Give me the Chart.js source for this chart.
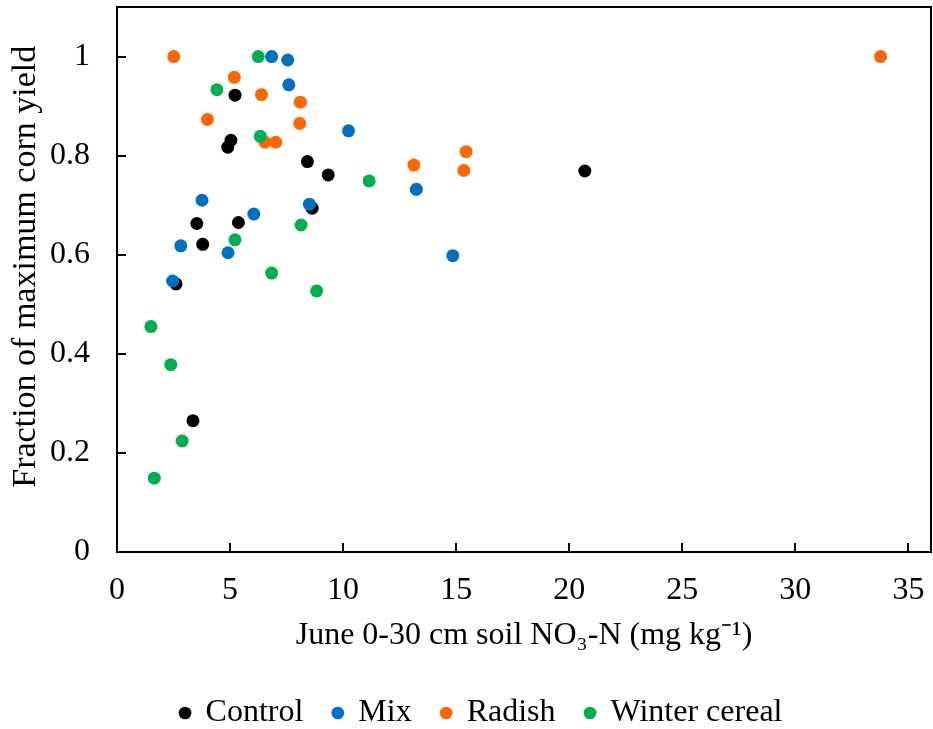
<!DOCTYPE html>
<html>
<head>
<meta charset="utf-8">
<script src="https://cdn.jsdelivr.net/npm/chart.js@4"></script>
<style>
  html, body { margin: 0; padding: 0; background: #fff; }
  #wrap { width: 933px; height: 729px; }
</style>
</head>
<body>
<div id="wrap"><canvas id="myChart" width="933" height="729"></canvas></div>
<script>
// June soil nitrate (mg/kg) vs fraction of max corn yield, per cover crop
const controlX = [5.22, 5.04, 4.90, 8.42, 9.34, 8.63, 3.53, 5.37, 3.79, 2.61, 3.36, 20.69];
const controlY = [0.922, 0.831, 0.817, 0.788, 0.761, 0.694, 0.663, 0.665, 0.621, 0.541, 0.265, 0.769];

const mixX = [6.84, 7.55, 7.60, 10.24, 3.76, 8.51, 6.05, 2.82, 4.91, 2.46, 13.24, 14.85];
const mixY = [1.0, 0.993, 0.943, 0.850, 0.710, 0.702, 0.682, 0.618, 0.604, 0.547, 0.732, 0.598];

const radishX = [2.51, 5.19, 6.39, 8.11, 4.00, 8.08, 6.55, 7.02, 13.13, 15.44, 15.34, 33.77];
const radishY = [1.0, 0.958, 0.923, 0.908, 0.873, 0.865, 0.827, 0.827, 0.781, 0.808, 0.770, 1.0];

const cerealX = [6.25, 4.42, 6.34, 11.15, 8.14, 5.22, 6.84, 8.83, 1.50, 2.38, 2.88, 1.65];
const cerealY = [1.0, 0.933, 0.839, 0.749, 0.660, 0.630, 0.563, 0.527, 0.455, 0.378, 0.224, 0.149];

const seriesNames = ['Control', 'Mix', 'Radish', 'Winter cereal'];
const seriesColors = ['#000000', '#0070C0', '#FF6600', '#00B050'];

const xTitle = 'June 0-30 cm soil NO\u2083-N (mg kg\u207B\u00B9)';
const yTitle = 'Fraction of maximum corn yield';

const FONT = "'Liberation Serif', 'Times New Roman', serif";

function toPoints(xs, ys) {
    return xs.map((x, i) => ({ x: x, y: ys[i] }));
}

const allData = [
    toPoints(controlX, controlY),
    toPoints(mixX, mixY),
    toPoints(radishX, radishY),
    toPoints(cerealX, cerealY)
];

// frame on top/right plus inward tick marks
const framePlugin = {
    id: 'frame',
    afterLayout(chart) {
        // legend sits a bit right of canvas centre in the original
        chart.legend.left += 13;
        chart.legend.right += 13;
    },
    afterDraw(chart) {
        const ctx = chart.ctx;
        const a = chart.chartArea;
        const xs = chart.scales.x;
        const ys = chart.scales.y;
        ctx.save();
        ctx.strokeStyle = '#000';
        ctx.lineWidth = 2;
        ctx.beginPath();
        ctx.moveTo(a.left, a.top);
        ctx.lineTo(a.right, a.top);
        ctx.lineTo(a.right, a.bottom);
        ctx.stroke();
        ctx.beginPath();
        xs.ticks.forEach(t => {
            const px = Math.round(xs.getPixelForValue(t.value));
            ctx.moveTo(px, a.bottom);
            ctx.lineTo(px, a.bottom - 9);
        });
        ys.ticks.forEach(t => {
            const py = Math.round(ys.getPixelForValue(t.value));
            ctx.moveTo(a.left, py);
            ctx.lineTo(a.left + 9, py);
        });
        ctx.stroke();
        ctx.restore();
    }
};

new Chart(document.getElementById('myChart'), {
    type: 'scatter',
    data: {
        datasets: allData.map((pts, i) => ({
            label: seriesNames[i],
            data: pts,
            backgroundColor: seriesColors[i],
            borderColor: seriesColors[i],
            borderWidth: 0,
            pointRadius: 6.5,
            pointHoverRadius: 6.5,
            order: 3 - i
        }))
    },
    options: {
        responsive: false,
        animation: false,
        layout: { autoPadding: false, padding: { left: 6, right: 2, top: 7, bottom: -10 } },
        plugins: {
            tooltip: { enabled: false },
            legend: {
                position: 'bottom',
                labels: {
                    usePointStyle: true,
                    pointStyle: 'circle',
                    boxWidth: 9,
                    boxHeight: 9,
                    padding: 30,
                    color: '#000',
                    font: { family: FONT, size: 32 },
                    sort: (a, b) => a.datasetIndex - b.datasetIndex
                }
            }
        },
        scales: {
            x: {
                type: 'linear',
                min: 0,
                max: 36,
                afterFit: s => { s.height = 115; s.paddingLeft = 0; s.paddingRight = 0; },
                grid: { display: true, drawOnChartArea: false, drawTicks: false },
                border: { display: true, color: '#000', width: 2 },
                ticks: {
                    stepSize: 5,
                    includeBounds: false,
                    padding: 19,
                    color: '#000',
                    font: { family: FONT, size: 32 }
                },
                title: {
                    display: true,
                    text: xTitle,
                    color: '#000',
                    font: { family: FONT, size: 32 },
                    padding: { top: 0, bottom: 12 }
                }
            },
            y: {
                type: 'linear',
                min: 0,
                max: 1.1,
                afterFit: s => { s.width = 111; s.paddingTop = 0; s.paddingBottom = 0; },
                grid: { display: true, drawOnChartArea: false, drawTicks: false },
                border: { display: true, color: '#000', width: 2 },
                ticks: {
                    stepSize: 0.2,
                    includeBounds: false,
                    padding: 27,
                    color: '#000',
                    font: { family: FONT, size: 32 },
                    callback: v => Math.round(v * 10) / 10
                },
                title: {
                    display: true,
                    // leading spaces nudge the rotated title upward like the original
                    text: '   ' + yTitle,
                    color: '#000',
                    font: { family: FONT, size: 34 },
                    padding: { top: 0, bottom: 0 }
                }
            }
        }
    },
    plugins: [framePlugin]
});
</script>
</body>
</html>
